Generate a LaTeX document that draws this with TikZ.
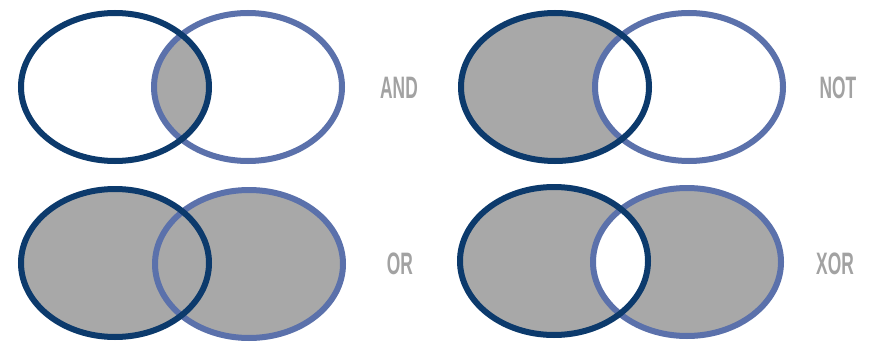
\documentclass[tikz,border=0pt]{standalone}
\usepackage{fontspec}
\setmainfont{Liberation Sans}
\usepackage{graphicx}
\definecolor{darkblue}{HTML}{0C3A6C}
\definecolor{lightblue}{HTML}{5B71AB}
\definecolor{fillgray}{HTML}{A8A8A8}
\definecolor{textgray}{HTML}{A2A2A2}
\tikzset{
  setA/.style={draw=darkblue,line width=6pt},
  setB/.style={draw=lightblue,line width=6pt},
  oplabel/.style={text=textgray,font=\bfseries\fontsize{31}{31}\selectfont,inner sep=0pt}
}
\newcommand{\oplab}[1]{\scalebox{0.56}[1]{#1}}
\begin{document}
\begin{tikzpicture}[x=1pt,y=-1pt]
\useasboundingbox[fill=white] (0,0) rectangle (869,342);
% centres
\coordinate (a1) at (115,87);  \coordinate (b1) at (248,87);
\coordinate (a2) at (555,87);  \coordinate (b2) at (689,87);
\coordinate (a3) at (115,263); \coordinate (b3) at (249,264);
\coordinate (a4) at (554,261); \coordinate (b4) at (687,262);
\def\rx{94}\def\ry{74}
% AND
\begin{scope}
  \clip (a1) ellipse [x radius=\rx,y radius=\ry];
  \fill[fillgray] (b1) ellipse [x radius=\rx,y radius=\ry];
\end{scope}
\draw[setB] (b1) ellipse [x radius=\rx,y radius=\ry];
\draw[setA] (a1) ellipse [x radius=\rx,y radius=\ry];
\node[oplabel] (and) at (399,88) {\oplab{AND}};
% NOT
\fill[fillgray] (a2) ellipse [x radius=\rx,y radius=\ry];
\fill[white] (b2) ellipse [x radius=\rx,y radius=\ry];
\draw[setB] (b2) ellipse [x radius=\rx,y radius=\ry];
\draw[setA] (a2) ellipse [x radius=\rx,y radius=\ry];
\node[oplabel] (not) at (838,88) {\oplab{NOT}};
% OR
\fill[fillgray] (a3) ellipse [x radius=\rx,y radius=\ry];
\fill[fillgray] (b3) ellipse [x radius=\rx,y radius=\ry];
\draw[setB] (b3) ellipse [x radius=\rx,y radius=\ry];
\draw[setA] (a3) ellipse [x radius=\rx,y radius=\ry];
\node[oplabel] (or) at (400,264) {\oplab{OR}};
% XOR
\fill[fillgray,even odd rule] (a4) ellipse [x radius=\rx,y radius=\ry] (b4) ellipse [x radius=\rx,y radius=\ry];
\draw[setB] (b4) ellipse [x radius=\rx,y radius=\ry];
\draw[setA] (a4) ellipse [x radius=\rx,y radius=\ry];
\node[oplabel] (xor) at (835,264) {\oplab{XOR}};
\end{tikzpicture}
\end{document}
